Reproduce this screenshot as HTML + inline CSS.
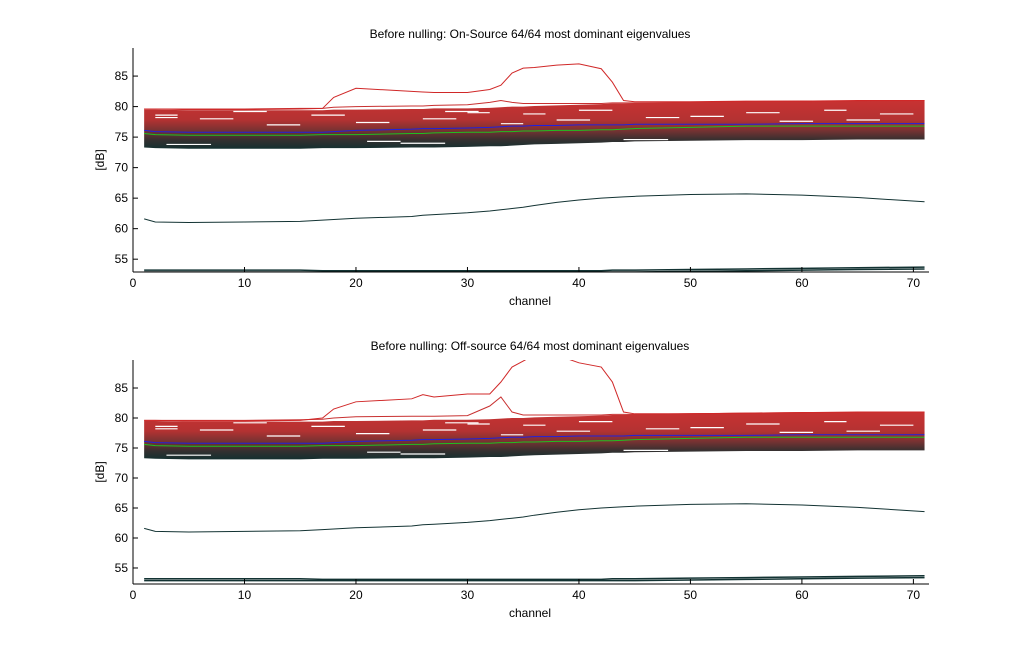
<!DOCTYPE html>
<html><head><meta charset="utf-8"><style>
body{margin:0;background:#fff;}
svg{display:block;font-family:"Liberation Sans",sans-serif;}
</style></head><body>
<svg id="c" width="1025" height="656"></svg>
<script>
const channels=[1,2,5,10,15,17,18,20,25,26,27,30,32,33,34,35,36,38,40,42,43,44,45,50,55,60,65,71];
const topPeak1=[79.6,79.6,79.5,79.5,79.6,79.7,81.5,83,82.5,82.4,82.3,82.3,82.8,83.5,85.5,86.3,86.4,86.8,87,86.2,84,81,80.8,80.8,80.9,80.9,81,81];
const topSecond1=[79.6,79.6,79.6,79.6,79.7,79.7,79.9,80,80.1,80.1,80.2,80.3,80.7,81,80.7,80.5,80.5,80.5,80.5,80.5,80.6,80.6,80.6,80.7,80.8,80.8,80.9,81];
const topPeak2=[79.6,79.6,79.5,79.5,79.6,80,81.5,82.7,83.2,83.9,83.5,84,84,86,88.5,89.5,90.5,90.5,89.2,88.5,86,81,80.7,80.7,80.8,80.9,81,81];
const topSecond2=[79.6,79.6,79.6,79.6,79.7,79.8,80,80.2,80.3,80.3,80.3,80.4,82,83.5,81,80.5,80.5,80.5,80.5,80.5,80.6,80.6,80.6,80.7,80.8,80.8,80.9,81];
const bandTop=[79.5,79.5,79.4,79.4,79.4,79.4,79.5,79.5,79.6,79.6,79.7,79.7,79.8,79.9,80,80,80.1,80.2,80.3,80.4,80.5,80.5,80.6,80.8,80.9,81,81,81];
const bandBottom=[73.3,73.2,73.1,73.1,73.1,73.2,73.2,73.2,73.3,73.3,73.3,73.4,73.5,73.5,73.6,73.7,73.8,73.9,74,74.1,74.2,74.2,74.3,74.4,74.5,74.5,74.6,74.6];
const blueLine=[76.1,75.9,75.8,75.8,75.8,75.8,75.9,76.1,76.3,76.4,76.4,76.5,76.6,76.7,76.8,76.8,76.9,76.9,77,77,77,77,77.1,77.1,77.1,77.2,77.2,77.2];
const greenLine=[75.6,75.4,75.3,75.3,75.3,75.4,75.4,75.4,75.6,75.6,75.7,75.8,75.8,75.9,75.9,76,76,76.1,76.1,76.2,76.2,76.3,76.4,76.6,76.8,76.8,76.8,76.8];
const lowLine=[61.6,61.1,61,61.1,61.2,61.4,61.5,61.7,62,62.2,62.3,62.6,62.9,63.1,63.3,63.5,63.8,64.3,64.7,65,65.1,65.2,65.3,65.6,65.7,65.5,65.1,64.4];
const floorA=[53.2,53.2,53.2,53.2,53.2,53.1,53.1,53.1,53.1,53.1,53.1,53.1,53.1,53.1,53.1,53.1,53.1,53.1,53.1,53.1,53.2,53.2,53.2,53.3,53.4,53.5,53.6,53.7];
const floorB=[52.9,52.9,52.9,52.9,52.9,52.9,52.9,52.9,52.9,52.9,52.9,52.9,52.9,52.9,52.9,52.9,52.9,52.9,52.9,52.9,52.9,52.9,52.9,53,53.1,53.2,53.3,53.4];
const gapChannels=[[2,4],[6,9],[20,23],[30,32],[38,41],[50,53],[62,64],[3,7],[24,28],[44,48],[12,15],[35,37],[58,61],[2,4],[9,12],[16,19],[26,29],[33,35],[40,43],[46,49],[55,58],[64,67],[67,70],[21,24],[28,31]];
const gapLevels=[78.6,78.0,77.4,79.0,77.8,78.4,79.4,73.8,74.0,74.6,77.0,78.8,77.6,78.2,79.2,78.6,78.0,77.2,79.4,78.2,79.0,77.8,78.8,74.3,79.2];
const xTicks=[0,10,20,30,40,50,60,70];
const yTicks=[55,60,65,70,75,80,85];

const svg=document.getElementById('c');
const NS='http://www.w3.org/2000/svg';
function mk(t,a,p){const e=document.createElementNS(NS,t);for(const k in a)e.setAttribute(k,a[k]);(p||svg).appendChild(e);return e;}
const defs=mk('defs',{});
const g=mk('linearGradient',{id:'bandGrad',x1:0,y1:0,x2:0,y2:1},defs);
mk('stop',{offset:'0','stop-color':'#c83232'},g);
mk('stop',{offset:'0.4','stop-color':'#b43232'},g);
mk('stop',{offset:'0.62','stop-color':'#783232'},g);
mk('stop',{offset:'0.82','stop-color':'#343030'},g);
mk('stop',{offset:'1','stop-color':'#143030'},g);

function panel(top,bottom,ymin,ymax,title,peak,second,idx){
  const L=133,R=929,xmax=71.4;
  const X=v=>L+(v)/xmax*(R-L);
  const Y=v=>bottom-(v-ymin)/(ymax-ymin)*(bottom-top);
  const grp=mk('g',{});
  
  
  const cp=mk('clipPath',{id:'cp'+idx},defs);
  mk('rect',{x:L,y:top,width:R-L,height:bottom-top},cp);
  const plot=mk('g',{'clip-path':'url(#cp'+idx+')'},grp);
  const pts=a=>channels.map((c,i)=>X(c)+','+Y(a[i])).join(' ');
  const band=mk('polygon',{points:pts(bandTop)+' '+channels.map((c,i)=>[c,i]).reverse().map(([c,i])=>X(c)+','+Y(bandBottom[i])).join(' '),fill:'url(#bandGrad)'},plot);
  
  
  gapChannels.forEach((gc,i)=>{
    const ln=mk('line',{x1:X(gc[0]),x2:X(gc[1]),y1:Y(gapLevels[i]),y2:Y(gapLevels[i]),stroke:'#fff','stroke-width':1.2},plot);
    
    
  });
  const series=[[second,'#c83030','second-eigenvalue'],[peak,'#d02828','dominant-eigenvalue'],[blueLine,'#2020e0','blue-eigenvalue'],[greenLine,'#20c020','green-eigenvalue'],[lowLine,'#133333','low-eigenvalue'],[floorA,'#133333','floor-eigenvalue-a'],[floorB,'#133333','floor-eigenvalue-b']];
  series.forEach(s=>{
    const p=mk('polyline',{points:pts(s[0]),fill:'none',stroke:s[1],'stroke-width':s[2].startsWith('floor')?1.5:1},plot);
    
    
  });
  mk('line',{x1:L,x2:L,y1:top,y2:bottom,stroke:'#000'},grp);
  mk('line',{x1:L,x2:R,y1:bottom,y2:bottom,stroke:'#000'},grp);
  xTicks.forEach(t=>{
    mk('line',{x1:X(t),x2:X(t),y1:bottom,y2:bottom-5,stroke:'#000'},grp);
    const tx=mk('text',{x:X(t),y:bottom+15,'font-size':12,'text-anchor':'middle'},grp);
    tx.textContent=t;
    
    
  });
  yTicks.forEach(t=>{
    mk('line',{x1:L,x2:L+5,y1:Y(t),y2:Y(t),stroke:'#000'},grp);
    const tx=mk('text',{x:L-5,y:Y(t)+4,'font-size':12,'text-anchor':'end'},grp);
    tx.textContent=t;
    
    
  });
  const tt=mk('text',{x:530,y:top-10,'font-size':12,'text-anchor':'middle'},grp);
  tt.textContent=title;
  
  
  const xl=mk('text',{x:530,y:bottom+33,'font-size':12,'text-anchor':'middle'},grp);
  xl.textContent='channel';
  
  
  const yl=mk('text',{x:0,y:0,'font-size':12,'text-anchor':'middle',transform:'translate(104,'+((top+bottom)/2)+') rotate(-90)'},grp);
  yl.textContent='[dB]';
  
  
}
panel(48,272,52.9,89.6,'Before nulling: On-Source 64/64 most dominant eigenvalues',topPeak1,topSecond1,1);
panel(360,584,52.33,89.67,'Before nulling: Off-source 64/64 most dominant eigenvalues',topPeak2,topSecond2,2);
</script>
</body></html>
